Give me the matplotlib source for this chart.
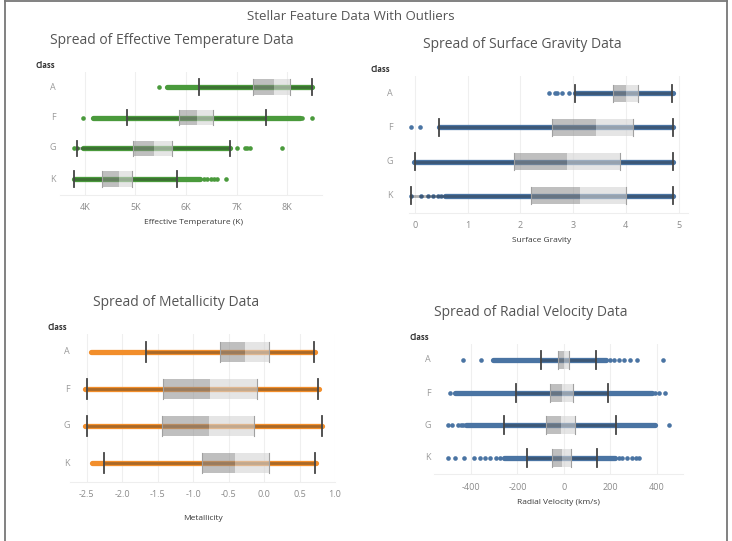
import matplotlib
matplotlib.use("Agg")
import matplotlib.pyplot as plt
from matplotlib.patches import Rectangle

plt.rcParams["font.family"] = ["Open Sans", "DejaVu Sans"]

W, H = 732, 541
CLASSES = ["A", "F", "G", "K"]

# ---- Effective temperature (K) ----
temp_dense_lo = [5617, 4165, 3954, 3776]
temp_dense_hi = [8500, 8257, 6871, 6277]
temp_whisk_lo = [6264, 4838, 3848, 3776]
temp_q1 = [7333, 5868, 4957, 4343]
temp_median = [7743, 6211, 5366, 4667]
temp_q3 = [8059, 6541, 5716, 4937]
temp_whisk_hi = [8488, 7577, 6871, 5815]
temp_points = [
    [5472],
    [3967, 8300, 8488],
    [3782, 3848, 7003, 7170, 7210, 7267, 7894],
    [6350, 6420, 6500, 6560, 6607, 6792],
]
temp_ticks = [4000, 5000, 6000, 7000, 8000]
temp_tick_labels = ["4K", "5K", "6K", "7K", "8K"]

# ---- Surface gravity ----
grav_dense_lo = [3.04, 0.46, -0.01, 0.56]
grav_dense_hi = [4.89, 4.89, 4.89, 4.89]
grav_whisk_lo = [3.04, 0.46, 0.006, -0.08]
grav_q1 = [3.75, 2.60, 1.87, 2.20]
grav_median = [4.00, 3.44, 2.89, 3.14]
grav_q3 = [4.23, 4.13, 3.89, 4.01]
grav_whisk_hi = [4.87, 4.89, 4.89, 4.89]
grav_points = [
    [2.55, 2.65, 2.70, 2.78, 2.93],
    [-0.08, 0.10],
    [0.0, 0.12, 0.2],
    [-0.08, 0.11, 0.24, 0.34, 0.43, 0.49],
]
grav_ticks = [0, 1, 2, 3, 4, 5]
grav_tick_labels = ["0", "1", "2", "3", "4", "5"]

# ---- Metallicity ----
met_dense_lo = [-2.44, -2.52, -2.52, -2.42]
met_dense_hi = [0.72, 0.78, 0.82, 0.73]
met_whisk_lo = [-1.66, -2.50, -2.50, -2.255]
met_q1 = [-0.62, -1.43, -1.44, -0.88]
met_median = [-0.27, -0.76, -0.78, -0.41]
met_q3 = [0.07, -0.10, -0.14, 0.068]
met_whisk_hi = [0.70, 0.76, 0.81, 0.715]
met_points = [[], [], [], []]
met_ticks = [-2.5, -2.0, -1.5, -1.0, -0.5, 0.0, 0.5, 1.0]
met_tick_labels = ["-2.5", "-2.0", "-1.5", "-1.0", "-0.5", "0.0", "0.5", "1.0"]

# ---- Radial velocity (km/s) ----
rv_dense_lo = [-307, -467, -421, -257]
rv_dense_hi = [179, 379, 393, 221]
rv_whisk_lo = [-97, -207, -257, -160]
rv_q1 = [-24, -61, -79, -53]
rv_median = [0, -10, -14, -7]
rv_q3 = [21, 39, 47, 29]
rv_whisk_hi = [136, 189, 224, 143]
rv_points = [
    [-436, -357, 200, 214, 236, 257, 286, 314, 424],
    [-490, 393, 407, 436],
    [-500, -481, -457, -443, -436, 450],
    [-500, -467, -429, -386, -360, -340, -320, -293, -276,
     236, 250, 271, 293, 310, 321],
]
rv_ticks = [-400, -200, 0, 200, 400]
rv_tick_labels = ["-400", "-200", "0", "200", "400"]

GREEN = "#4a9a3c"
BLUE = "#4a74a3"
ORANGE = "#f28e2b"


def px_axes(fig, x0, y0, x1, y1):
    return fig.add_axes([x0 / W, 1 - y1 / H, (x1 - x0) / W, (y1 - y0) / H])


def ftext(fig, x, y, s, **kw):
    fig.text(x / W, 1 - y / H, s, **kw)


def draw_panel(ax, color, dense_lo, dense_hi, wlo, q1, med, q3, whi, points,
               ticks, tick_labels, xlim, box_h):
    for i in range(len(CLASSES)):
        ax.plot([dense_lo[i], dense_hi[i]], [i, i], color=color, lw=3.8,
                solid_capstyle="round", zorder=2)
        if points[i]:
            ax.scatter(points[i], [i] * len(points[i]), s=11, color=color,
                       linewidths=0, zorder=2)
        # whisker segment: darker tone over the points band
        ax.plot([wlo[i], whi[i]], [i, i], color="#222222", lw=2.0,
                alpha=0.35, solid_capstyle="butt", zorder=3)
        ax.add_patch(Rectangle((q1[i], i - box_h / 2), med[i] - q1[i], box_h,
                               facecolor="#8c8c8c", alpha=0.55,
                               edgecolor="none", zorder=4))
        ax.add_patch(Rectangle((med[i], i - box_h / 2), q3[i] - med[i], box_h,
                               facecolor="#d4d4d4", alpha=0.6,
                               edgecolor="none", zorder=4))
        for xv in (q1[i], q3[i]):
            ax.plot([xv, xv], [i - box_h / 2, i + box_h / 2], color="#a0a0a0",
                    lw=0.8, zorder=5)
        for xv in (wlo[i], whi[i]):
            ax.plot([xv, xv], [i - box_h / 2, i + box_h / 2], color="#444444",
                    lw=1.3, zorder=5)
    ax.set_xlim(*xlim)
    ax.set_ylim(len(CLASSES) - 0.5, -0.5)
    ax.set_xticks(ticks)
    ax.set_xticklabels(tick_labels)
    ax.set_yticks([])
    ax.tick_params(axis="x", length=0, pad=6, labelsize=6.5,
                   labelcolor="#8a8a8a")
    ax.grid(axis="x", color="#efefef", lw=0.8, zorder=0)
    ax.set_axisbelow(True)
    for side in ("top", "right", "left"):
        ax.spines[side].set_visible(False)
    ax.spines["bottom"].set_color("#eeeeee")


def class_labels(fig, x_class, y_class, x_cat, ys):
    ftext(fig, x_class, y_class, "Class", fontsize=5.5, fontweight="bold",
          color="#333333", ha="left", va="center")
    for c, y in zip(CLASSES, ys):
        ftext(fig, x_cat, y, c, fontsize=6.5, color="#9a9a9a", ha="center",
              va="center")


fig = plt.figure(figsize=(W / 100, H / 100), dpi=100)

# frame
fig.add_artist(plt.Line2D([4.5 / W, 4.5 / W], [0, 1 - 1 / H], color="#777777",
                          lw=1.3))
fig.add_artist(plt.Line2D([726.5 / W, 726.5 / W], [0, 1 - 1 / H],
                          color="#777777", lw=1.3))
fig.add_artist(plt.Line2D([4.5 / W, 726.5 / W], [1 - 1.2 / H, 1 - 1.2 / H],
                          color="#777777", lw=1.3))

ftext(fig, 351, 16, "Stellar Feature Data With Outliers", fontsize=9.5,
      color="#555555", ha="center", va="center")

# panel 1
ax1 = px_axes(fig, 60, 71.5, 322, 194.5)
draw_panel(ax1, GREEN, temp_dense_lo, temp_dense_hi, temp_whisk_lo, temp_q1,
           temp_median, temp_q3, temp_whisk_hi, temp_points, temp_ticks,
           temp_tick_labels, (3505, 8693), 0.5)
ftext(fig, 171.5, 41, "Spread of Effective Temperature Data", fontsize=10,
      color="#555555", ha="center", va="center")
class_labels(fig, 36, 65, 53, [87, 117, 148, 179])
ftext(fig, 193, 222, "Effective Temperature (K)", fontsize=6, color="#3a3a3a",
      ha="center", va="center")

# panel 2
ax2 = px_axes(fig, 409, 76, 688, 213)
draw_panel(ax2, BLUE, grav_dense_lo, grav_dense_hi, grav_whisk_lo, grav_q1,
           grav_median, grav_q3, grav_whisk_hi, grav_points, grav_ticks,
           grav_tick_labels, (-0.114, 5.18), 0.5)
ftext(fig, 522, 45, "Spread of Surface Gravity Data", fontsize=10,
      color="#555555", ha="center", va="center")
class_labels(fig, 371, 70, 390, [93, 128, 162, 196])
ftext(fig, 542, 241, "Surface Gravity", fontsize=6, color="#3a3a3a",
      ha="center", va="center")

# panel 3
ax3 = px_axes(fig, 70, 333.5, 335, 481.5)
draw_panel(ax3, ORANGE, met_dense_lo, met_dense_hi, met_whisk_lo, met_q1,
           met_median, met_q3, met_whisk_hi, met_points, met_ticks,
           met_tick_labels, (-2.735, 1.0), 0.55)
ftext(fig, 176, 302, "Spread of Metallicity Data", fontsize=10,
      color="#555555", ha="center", va="center")
class_labels(fig, 48, 328, 67, [352, 389, 426, 463])
ftext(fig, 203, 518, "Metallicity", fontsize=6, color="#3a3a3a",
      ha="center", va="center")

# panel 4
ax4 = px_axes(fig, 434, 343.7, 683, 474.3)
draw_panel(ax4, BLUE, rv_dense_lo, rv_dense_hi, rv_whisk_lo, rv_q1,
           rv_median, rv_q3, rv_whisk_hi, rv_points, rv_ticks,
           rv_tick_labels, (-559, 512), 0.55)
ftext(fig, 530.5, 313, "Spread of Radial Velocity Data", fontsize=10,
      color="#555555", ha="center", va="center")
class_labels(fig, 410, 338, 428, [360, 393, 425, 458])
ftext(fig, 558, 502, "Radial Velocity (km/s)", fontsize=6, color="#3a3a3a",
      ha="center", va="center")

fig.savefig("out.png", dpi=100)
